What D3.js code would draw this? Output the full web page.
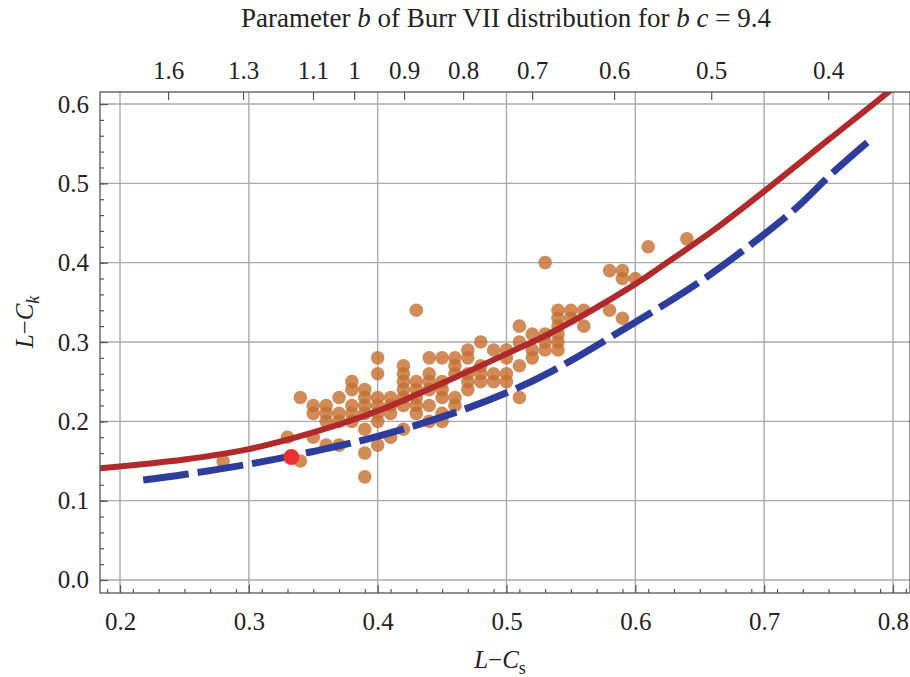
<!DOCTYPE html>
<html>
<head>
<meta charset="utf-8">
<script src="https://cdnjs.cloudflare.com/ajax/libs/d3/7.8.5/d3.min.js"></script>
<style>
body { margin: 0; background: white; }
svg text { font-family: "Liberation Serif", "Times New Roman", serif; fill: #222; }
</style>
</head>
<body>
<script>
// sample points, grouped by L-Cs column
sampleCs = [0.28, 0.33, 0.34, 0.35, 0.36, 0.37, 0.38, 0.39, 0.40, 0.41, 0.42, 0.43, 0.44, 0.45,
            0.46, 0.47, 0.48, 0.49, 0.50, 0.51, 0.52, 0.53, 0.54, 0.55, 0.56, 0.58, 0.59, 0.60, 0.61, 0.64];
sampleCk = [
    [0.15], [0.18], [0.23, 0.15], [0.22, 0.21, 0.18], [0.22, 0.21, 0.20, 0.17],
    [0.23, 0.21, 0.20, 0.17], [0.25, 0.24, 0.22, 0.21, 0.20], [0.24, 0.23, 0.22, 0.21, 0.19, 0.16, 0.13],
    [0.28, 0.26, 0.23, 0.22, 0.21, 0.20, 0.17], [0.23, 0.22, 0.21, 0.18],
    [0.27, 0.26, 0.25, 0.24, 0.23, 0.22, 0.19], [0.34, 0.25, 0.24, 0.23, 0.22, 0.21],
    [0.28, 0.26, 0.25, 0.24, 0.22, 0.20], [0.28, 0.25, 0.24, 0.23, 0.21, 0.20],
    [0.28, 0.27, 0.26, 0.23, 0.22], [0.29, 0.28, 0.26, 0.25, 0.24], [0.30, 0.27, 0.26, 0.25],
    [0.29, 0.26, 0.25], [0.29, 0.28, 0.26, 0.25], [0.32, 0.30, 0.27, 0.23], [0.31, 0.29, 0.28],
    [0.40, 0.31, 0.30, 0.29], [0.34, 0.33, 0.32, 0.31, 0.30, 0.29], [0.34, 0.33], [0.34, 0.32],
    [0.39, 0.34], [0.39, 0.38, 0.33], [0.38], [0.42], [0.43]
];
highlightPoint = [0.333, 0.155];

// solid red curve
redCs = [0.1845, 0.25, 0.30, 0.35, 0.40, 0.45, 0.50, 0.535, 0.60, 0.62, 0.66, 0.707, 0.75, 0.7955, 0.81];
redCk = [0.141, 0.152, 0.165, 0.186, 0.213, 0.248, 0.285, 0.312, 0.373, 0.395, 0.440, 0.499, 0.555, 0.614, 0.634];

// dashed blue curve
blueCs = [0.218, 0.25, 0.30, 0.35, 0.40, 0.46, 0.50, 0.535, 0.60, 0.6464, 0.6915, 0.7256, 0.7536, 0.7846];
blueCk = [0.126, 0.133, 0.146, 0.162, 0.181, 0.211, 0.236, 0.263, 0.325, 0.372, 0.425, 0.470, 0.514, 0.558];

// top axis: parameter b placed at L-Cs positions
bTickLabels = ["1.6", "1.3", "1.1", "1", "0.9", "0.8", "0.7", "0.6", "0.5", "0.4"];
bTickCs = [0.2373, 0.2955, 0.3498, 0.3817, 0.4205, 0.4663, 0.5199, 0.5835, 0.6589, 0.7497];

xTicks = [0.2, 0.3, 0.4, 0.5, 0.6, 0.7, 0.8];
yTicks = [0.0, 0.1, 0.2, 0.3, 0.4, 0.5, 0.6];

var pLeft = 100, pRight = 910, pTop = 92, pBottom = 593;
var fontSize = 25;
var serif = "'Liberation Serif', 'Times New Roman', serif";

var x = d3.scaleLinear().domain([0.18447, 0.81320]).range([pLeft, pRight]);
var y = d3.scaleLinear().domain([-0.01639, 0.61514]).range([pBottom, pTop]);

var svg = d3.select("body").append("svg")
    .attr("width", 910)
    .attr("height", 677);

svg.append("clipPath").attr("id", "plotClip")
    .append("rect")
    .attr("x", pLeft).attr("y", pTop)
    .attr("width", pRight - pLeft).attr("height", pBottom - pTop);

// grid
var grid = svg.append("g").attr("clip-path", "url(#plotClip)");
grid.selectAll("line.vx").data(xTicks).enter().append("line")
    .attr("x1", d => x(d)).attr("x2", d => x(d))
    .attr("y1", pTop).attr("y2", pBottom)
    .style("stroke", "#a9a9b6").style("stroke-width", 1.4);
grid.selectAll("line.hy").data(yTicks).enter().append("line")
    .attr("y1", d => y(d)).attr("y2", d => y(d))
    .attr("x1", pLeft).attr("x2", pRight)
    .style("stroke", "#a9a9b6").style("stroke-width", 1.4);

var points = [];
sampleCs.forEach(function(c, i) {
    sampleCk[i].forEach(function(k) { points.push({cs: c, ck: k}); });
});

var plot = svg.append("g").attr("clip-path", "url(#plotClip)");

plot.selectAll("circle.sample").data(points).enter().append("circle")
    .attr("class", "sample")
    .attr("cx", d => x(d.cs))
    .attr("cy", d => y(d.ck))
    .attr("r", 6.8)
    .style("fill", "#c66e30")
    .style("opacity", 0.8);

var line = d3.line().curve(d3.curveCatmullRom.alpha(0.5)).x(d => x(d[0])).y(d => y(d[1]));

plot.append("path")
    .attr("d", line(d3.zip(blueCs, blueCk)))
    .style("fill", "none")
    .style("stroke", "#2e3d9c")
    .style("stroke-width", 7)
    .style("stroke-dasharray", "46,9");

plot.append("path")
    .attr("d", line(d3.zip(redCs, redCk)))
    .style("fill", "none")
    .style("stroke", "#b02a2c")
    .style("stroke-width", 6);

plot.append("circle")
    .attr("cx", x(highlightPoint[0]))
    .attr("cy", y(highlightPoint[1]))
    .attr("r", 8)
    .style("fill", "#f0302e");

// frame
svg.append("rect")
    .attr("x", pLeft).attr("y", pTop)
    .attr("width", pRight - pLeft).attr("height", pBottom - pTop)
    .style("fill", "none").style("stroke", "#555").style("stroke-width", 1.3);

function styleAxis(g) {
    g.select(".domain").remove();
    g.selectAll("line").style("stroke", "#555").style("stroke-width", 1.2);
    g.selectAll("text").style("font-family", serif)
        .style("font-size", fontSize + "px").style("fill", "#222");
}

var minorX = d3.range(0.19, 0.82, 0.02).map(v => +v.toFixed(2));
var minorY = d3.range(0.0, 0.62, 0.02).map(v => +v.toFixed(2));

svg.append("g").attr("transform", "translate(0," + pBottom + ")")
    .call(d3.axisBottom(x).tickValues(minorX.filter(v => x(v) > pLeft)).tickSize(-4).tickFormat(""))
    .call(styleAxis);
svg.append("g").attr("transform", "translate(0," + pBottom + ")")
    .call(d3.axisBottom(x).tickValues(xTicks).tickSize(-8).tickPadding(19).tickFormat(d3.format(".1f")))
    .call(styleAxis);

svg.append("g").attr("transform", "translate(" + pLeft + ",0)")
    .call(d3.axisLeft(y).tickValues(minorY).tickSize(-4).tickFormat(""))
    .call(styleAxis);
svg.append("g").attr("transform", "translate(" + pLeft + ",0)")
    .call(d3.axisLeft(y).tickValues(yTicks).tickSize(-8).tickPadding(11).tickFormat(d3.format(".1f")))
    .call(styleAxis);

svg.append("g").attr("transform", "translate(0," + pTop + ")")
    .call(d3.axisTop(x).tickValues(bTickCs).tickSize(-8).tickPadding(13).tickFormat((d, i) => bTickLabels[i]))
    .call(styleAxis);

// titles
var title = svg.append("text")
    .attr("x", 506).attr("y", 27)
    .attr("text-anchor", "middle")
    .style("font-family", serif)
    .style("font-size", "27px");
title.append("tspan").text("Parameter ");
title.append("tspan").style("font-style", "italic").text("b");
title.append("tspan").text(" of Burr VII distribution for ");
title.append("tspan").style("font-style", "italic").text("b c");
title.append("tspan").text(" = 9.4");

var xLabel = svg.append("text")
    .attr("x", 500).attr("y", 668)
    .attr("text-anchor", "middle")
    .style("font-family", serif)
    .style("font-size", fontSize + "px");
xLabel.append("tspan").style("font-style", "italic").text("L");
xLabel.append("tspan").text("\u2212");
xLabel.append("tspan").style("font-style", "italic").text("C");
xLabel.append("tspan").attr("dy", 6).style("font-size", "18px").text("s");

var yLabel = svg.append("text")
    .attr("transform", "translate(33,322) rotate(-90)")
    .attr("text-anchor", "middle")
    .style("font-family", serif)
    .style("font-size", fontSize + "px");
yLabel.append("tspan").style("font-style", "italic").text("L");
yLabel.append("tspan").text("\u2212");
yLabel.append("tspan").style("font-style", "italic").text("C");
yLabel.append("tspan").attr("dy", 6).style("font-size", "18px").style("font-style", "italic").text("k");
</script>
</body>
</html>
